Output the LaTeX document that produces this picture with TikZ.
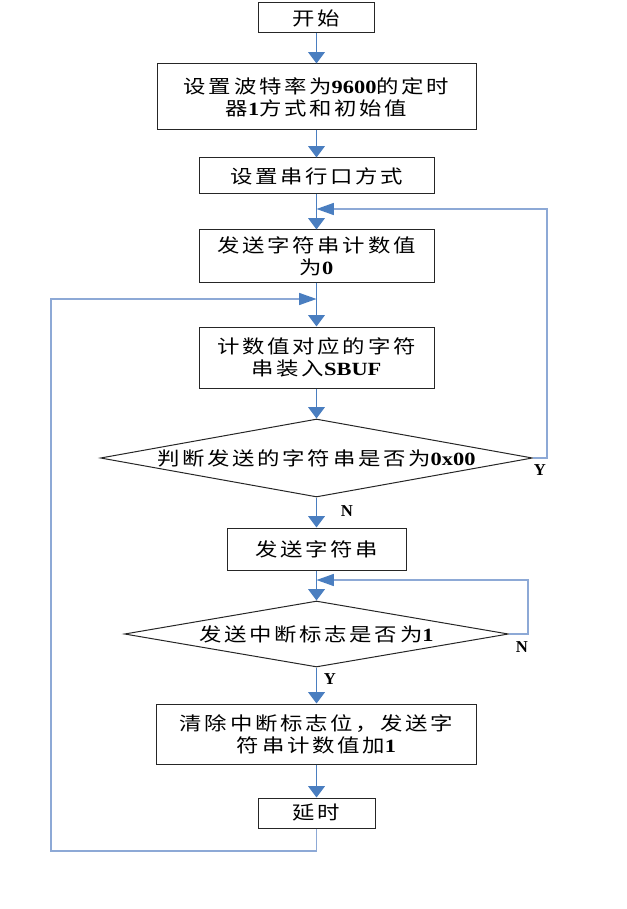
\documentclass[tikz,border=0pt]{standalone}
\usepackage{fontspec}
\usepackage{graphicx}
\usetikzlibrary{shapes.geometric,arrows.meta}
\newfontfamily\cjk[LetterSpace=12]{Noto Sans CJK SC}
\newfontfamily\lat{Liberation Serif}
\newcommand\tx[1]{\scalebox{1.2}[1]{\cjk #1}}
\newcommand\la[1]{{\lat\bfseries #1}}
\definecolor{mainblue}{RGB}{74,126,192}
\definecolor{loopblue}{RGB}{141,169,214}
\tikzset{
  box/.style={draw=black!85, line width=0.75pt, rectangle, inner sep=0pt, align=center,
    font=\fontsize{14}{16.5}\selectfont},
  dia/.style={draw=black!85, line width=0.75pt, diamond, inner sep=0pt},
  dtext/.style={inner sep=0pt, font=\fontsize{14}{16.5}\selectfont},
  conn/.style={draw=mainblue, line width=1pt, -{Triangle[width=12.5pt,length=8.5pt]}},
  loopline/.style={draw=loopblue, line width=1pt, -{Triangle[width=9pt,length=13pt,color=mainblue]}},
  yn/.style={inner sep=0pt, font=\fontsize{12.5}{14}\selectfont\lat\bfseries},
}
\begin{document}
\begin{tikzpicture}[x=0.75pt,y=-0.75pt]
\useasboundingbox (0,0) rectangle (627,909);
\node[box, minimum width=116*0.75pt, minimum height=30*0.75pt] (start) at (316.5,18) {\tx{开始}};
\node[box, minimum width=319*0.75pt, minimum height=66*0.75pt] (init) at (316.5,97) {\tx{设置波特率为\la{9600}的定时}\\\tx{器\la{1}方式和初始值}};
\node[box, minimum width=235*0.75pt, minimum height=36*0.75pt] (serial) at (316.5,176) {\tx{设置串行口方式}};
\node[box, minimum width=235*0.75pt, minimum height=52*0.75pt] (cnt0) at (316.5,256) {\tx{发送字符串计数值}\\\tx{为\la{0}}};
\node[box, minimum width=235*0.75pt, minimum height=61*0.75pt] (load) at (316.5,357.5) {\tx{计数值对应的字符}\\\tx{串装入\la{SBUF}}};
\node[dia, minimum width=432*0.75pt, minimum height=78*0.75pt] (d1) at (316.5,458) {};
\node[dtext] (t1) at (d1.center) {\tx{判断发送的字符串是否为\la{0x00}}};
\node[box, minimum width=179*0.75pt, minimum height=42*0.75pt] (send) at (316.5,549) {\tx{发送字符串}};
\node[dia, minimum width=384*0.75pt, minimum height=66*0.75pt] (d2) at (316.5,634) {};
\node[dtext] (t2) at (d2.center) {\tx{发送中断标志是否为\la{1}}};
\node[box, minimum width=320*0.75pt, minimum height=60*0.75pt] (clr) at (316.5,734) {\tx{清除中断标志位，发送字}\\\tx{符串计数值加\la{1}}};
\node[box, minimum width=117*0.75pt, minimum height=30*0.75pt] (delay) at (316.5,813) {\tx{延时}};

\coordinate (m1) at (316.5,209);
\coordinate (m2) at (316.5,299);
\coordinate (m3) at (316.5,580);
\coordinate (c1) at (51,851);

\draw[conn] (start) -- (init);
\draw[conn] (init) -- (serial);
\draw[conn] (serial) -- (cnt0);
\draw[conn] (cnt0) -- (load);
\draw[conn] (load) -- (d1.north);
\draw[conn] (d1.south) -- (send);
\draw[conn] (send) -- (d2.north);
\draw[conn] (d2.south) -- (clr);
\draw[conn] (clr) -- (delay);

\draw[loopline] (d1.east) -- ++(14,0) |- (m1);
\draw[loopline] (d2.east) -- ++(19,0) |- (m3);
\draw[loopline] (delay.south) |- (c1) |- (m2);

\node[yn] (y1) at (540,470) {Y};
\node[yn] (n1) at (347,511) {N};
\node[yn] (n2) at (522,647) {N};
\node[yn] (y2) at (330,679) {Y};
\end{tikzpicture}
\end{document}
